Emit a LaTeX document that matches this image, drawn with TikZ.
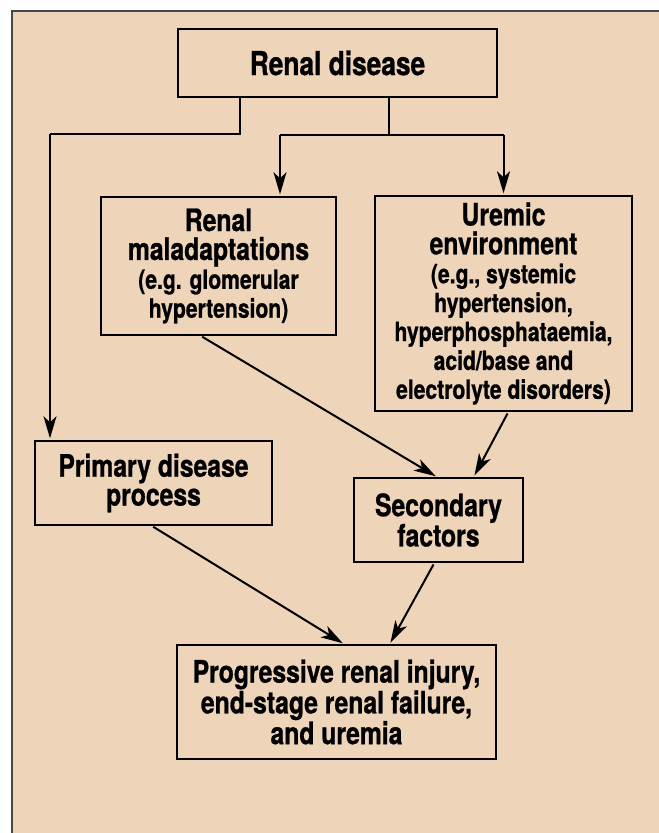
\documentclass[tikz,border=0pt]{standalone}
\usepackage{fontspec}
\setmainfont{TeX Gyre Heros}[FakeStretch=0.8, BoldFeatures={FakeBold=0.8}]
\usepackage{xcolor}
\usetikzlibrary{arrows.meta}

\definecolor{panelTan}{RGB}{238,212,185}
\definecolor{frameGray}{RGB}{70,70,70}
\newcommand{\bigtxt}{\fontsize{31}{29}\selectfont}
\newcommand{\smtxt}{\fontsize{26.5}{26.5}\selectfont}

\tikzset{
  box/.style={draw=black, line width=1.4bp, inner sep=0pt, align=center,
    font=\bfseries\bigtxt},
  arr/.style={line width=2bp, -{Stealth[length=22bp,width=13bp,inset=6bp]},
    shorten >=2bp},
  ln/.style={line width=2bp}
}

\begin{document}
\begin{tikzpicture}[x=1bp, y=-1bp]
            \useasboundingbox (0,0) rectangle (659,833);
            \clip (0,0) rectangle (659,833);
            \draw[fill=panelTan, draw=frameGray, line width=1.6bp] (12,11) rectangle (700,880);

            \node[box, minimum width=319bp, minimum height=68bp, font=\bfseries\fontsize{33}{30}\selectfont] (dis) at (337.5,63) {Renal disease};
            \node[box, minimum width=235bp, minimum height=138bp] (mal) at (218.5,266) {Renal\\maladaptations\\\smtxt(e.g. glomerular\\\smtxt hypertension)};
            \node[box, minimum width=257bp, minimum height=215bp] (ure) at (503.5,303.5) {Uremic\\environment\\\smtxt(e.g., systemic\\\smtxt hypertension,\\\smtxt hyperphosphataemia,\\\smtxt acid/base and\\\smtxt electrolyte disorders)};
            \node[box, minimum width=237bp, minimum height=84bp] (pri) at (153.5,483) {Primary disease\\process};
            \node[box, minimum width=169bp, minimum height=84bp] (sec) at (438.5,520) {Secondary\\factors};
            \node[box, minimum width=319bp, minimum height=114bp] (prog) at (336.5,702) {Progressive renal injury,\\end-stage renal failure,\\and uremia};

            % branch to the primary process
            \coordinate (jl) at (240,134);
            \coordinate (pl) at (50,134);
            \draw[ln] (dis.south -| jl) -- (jl) -- (pl);
            \draw[arr] (pl) -- (pl |- pri.north);

            % branch to the two upper boxes
            \coordinate (jr) at (389,135);
            \coordinate (ml) at (280,135);
            \coordinate (ur) at (503.5,135);
            \draw[ln] (dis.south -| jr) -- (jr);
            \draw[ln] (ml) -- (ur);
            \draw[arr] (ml) -- (ml |- mal.north);
            \draw[arr] (ur) -- (ure.north);

            \draw[arr, shorten <=2bp] ([xshift=-18bp]mal.south) -- ([xshift=-1bp]sec.north);
            \draw[arr, shorten <=2bp] ([xshift=5bp]ure.south) -- ([xshift=35bp]sec.north);
            \draw[arr, shorten <=2bp] ([xshift=-2bp]pri.south) -- ([xshift=8bp]prog.north);
            \draw[arr, shorten <=2bp] ([xshift=-4bp]sec.south) -- ([xshift=53bp]prog.north);
        \end{tikzpicture}
\end{document}
